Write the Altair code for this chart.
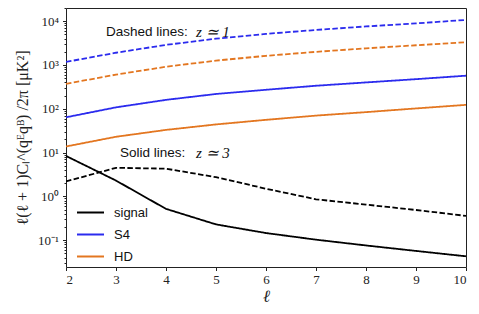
import altair as alt
import pandas as pd

ell = [2, 3, 4, 5, 6, 7, 8, 9, 10]

signal_z1 = [2.2, 4.5, 4.3, 2.75, 1.5, 0.86, 0.65, 0.49, 0.36]
signal_z3 = [8.4, 2.3, 0.52, 0.23, 0.146, 0.103, 0.076, 0.057, 0.043]
s4_z1 = [1175, 1905, 2880, 3980, 5130, 6310, 7590, 8910, 10700]
s4_z3 = [64, 108, 160, 218, 272, 336, 400, 475, 570]
hd_z1 = [372, 603, 912, 1260, 1620, 1995, 2400, 2820, 3310]
hd_z3 = [13.8, 23, 33, 44, 56, 70, 84, 102, 123]

series_names = ["signal", "S4", "HD"]
series_colors = ["#000000", "#2b2bee", "#e37620"]

y_major = [0.1, 1, 10, 100, 1000, 10000]
y_minor = [m * 10.0 ** k for k in range(-2, 5) for m in range(2, 10)]
y_minor = [v for v in y_minor if 0.0245 <= v <= 20000]
x_ticks = [2, 3, 4, 5, 6, 7, 8, 9, 10]

annot_ell = [2.8, 3.08]
annot_math_ell = [4.6, 4.6]
annot_val = [5700, 10]
annot_text = ["Dashed lines:", "Solid lines:"]
annot_math = ["z ≃ 1", "z ≃ 3"]

rows = []
for name, z, vals in [
    ("signal", "z1", signal_z1), ("signal", "z3", signal_z3),
    ("S4", "z1", s4_z1), ("S4", "z3", s4_z3),
    ("HD", "z1", hd_z1), ("HD", "z3", hd_z3),
]:
    for l, v in zip(ell, vals):
        rows.append({"ell": l, "value": v, "series": name, "z": z})
df = pd.DataFrame(rows)

annot = pd.DataFrame({"ell": annot_ell, "mell": annot_math_ell, "value": annot_val,
                      "t": annot_text, "m": annot_math})

label_expr = (
    "datum.value == 0.1 ? '10⁻¹' : datum.value == 1 ? '10⁰' : datum.value == 10 ? '10¹' : "
    "datum.value == 100 ? '10²' : datum.value == 1000 ? '10³' : datum.value == 10000 ? '10⁴' : ''"
)
major_test = "abs(log(datum.value)/LN10 - round(log(datum.value)/LN10)) < 1e-6"

xscale = alt.Scale(domain=[2, 10], nice=False, zero=False)
yscale = alt.Scale(type="log", domain=[0.0245, 20000], nice=False)

lines = alt.Chart(df).mark_line(strokeWidth=1.8, clip=True).encode(
    x=alt.X("ell:Q", scale=xscale,
            axis=alt.Axis(values=x_ticks, title="ℓ", grid=False, tickSize=3.5,
                          labelFont="Liberation Serif", labelFontSize=13, labelPadding=3,
                          titleFont="Liberation Serif", titleFontStyle="italic",
                          titleFontSize=17, titleFontWeight="normal", titlePadding=2,
                          domain=False, labelColor="#222", tickColor="#222", titleColor="#222")),
    y=alt.Y("value:Q", scale=yscale,
            axis=alt.Axis(values=y_major + y_minor, labelExpr=label_expr, grid=False,
                          tickSize={"condition": {"test": major_test, "value": 3.5}, "value": 2},
                          labelOverlap=False, labelFlush=False,
                          labelFont="Liberation Serif", labelFontSize=13, labelPadding=4,
                          title="ℓ(ℓ + 1)Cₗ^(qᴱqᴮ) /2π  [μK²]",
                          titleFont="Liberation Serif", titleFontSize=16, titleFontWeight="normal",
                          titlePadding=7, domain=False, labelColor="#222", tickColor="#222",
                          titleColor="#222")),
    color=alt.Color("series:N", scale=alt.Scale(domain=series_names, range=series_colors),
                    legend=alt.Legend(title=None, orient="none", legendX=10, legendY=190,
                                      symbolType="stroke", symbolSize=729, symbolStrokeWidth=2,
                                      labelFont="Liberation Sans", labelFontSize=13,
                                      labelOffset=9, rowPadding=-7, padding=0,
                                      labelColor="#111")),
    strokeDash=alt.StrokeDash("z:N", scale=alt.Scale(domain=["z1", "z3"], range=[[5.5, 2.4], [1, 0]]),
                              legend=None),
    detail="z:N",
)

txt1 = alt.Chart(annot).mark_text(align="left", baseline="middle", font="Liberation Sans",
                                  fontSize=13.5, color="#111").encode(
    x=alt.X("ell:Q", scale=xscale), y=alt.Y("value:Q", scale=yscale), text="t:N")
txt2 = alt.Chart(annot).mark_text(align="left", baseline="middle", font="Liberation Serif",
                                  fontStyle="italic", fontSize=15, color="#111").encode(
    x=alt.X("mell:Q", scale=xscale), y=alt.Y("value:Q", scale=yscale), text="m:N")

chart = alt.layer(lines, txt1, txt2).properties(
    width=400, height=259,
    autosize=alt.AutoSizeParams(type="none"),
    padding={"left": 58, "top": 0, "right": 5, "bottom": 40},
).configure_view(stroke="#222", strokeWidth=1)

chart.save("out.html", embed_options={"renderer": "svg", "actions": False})
